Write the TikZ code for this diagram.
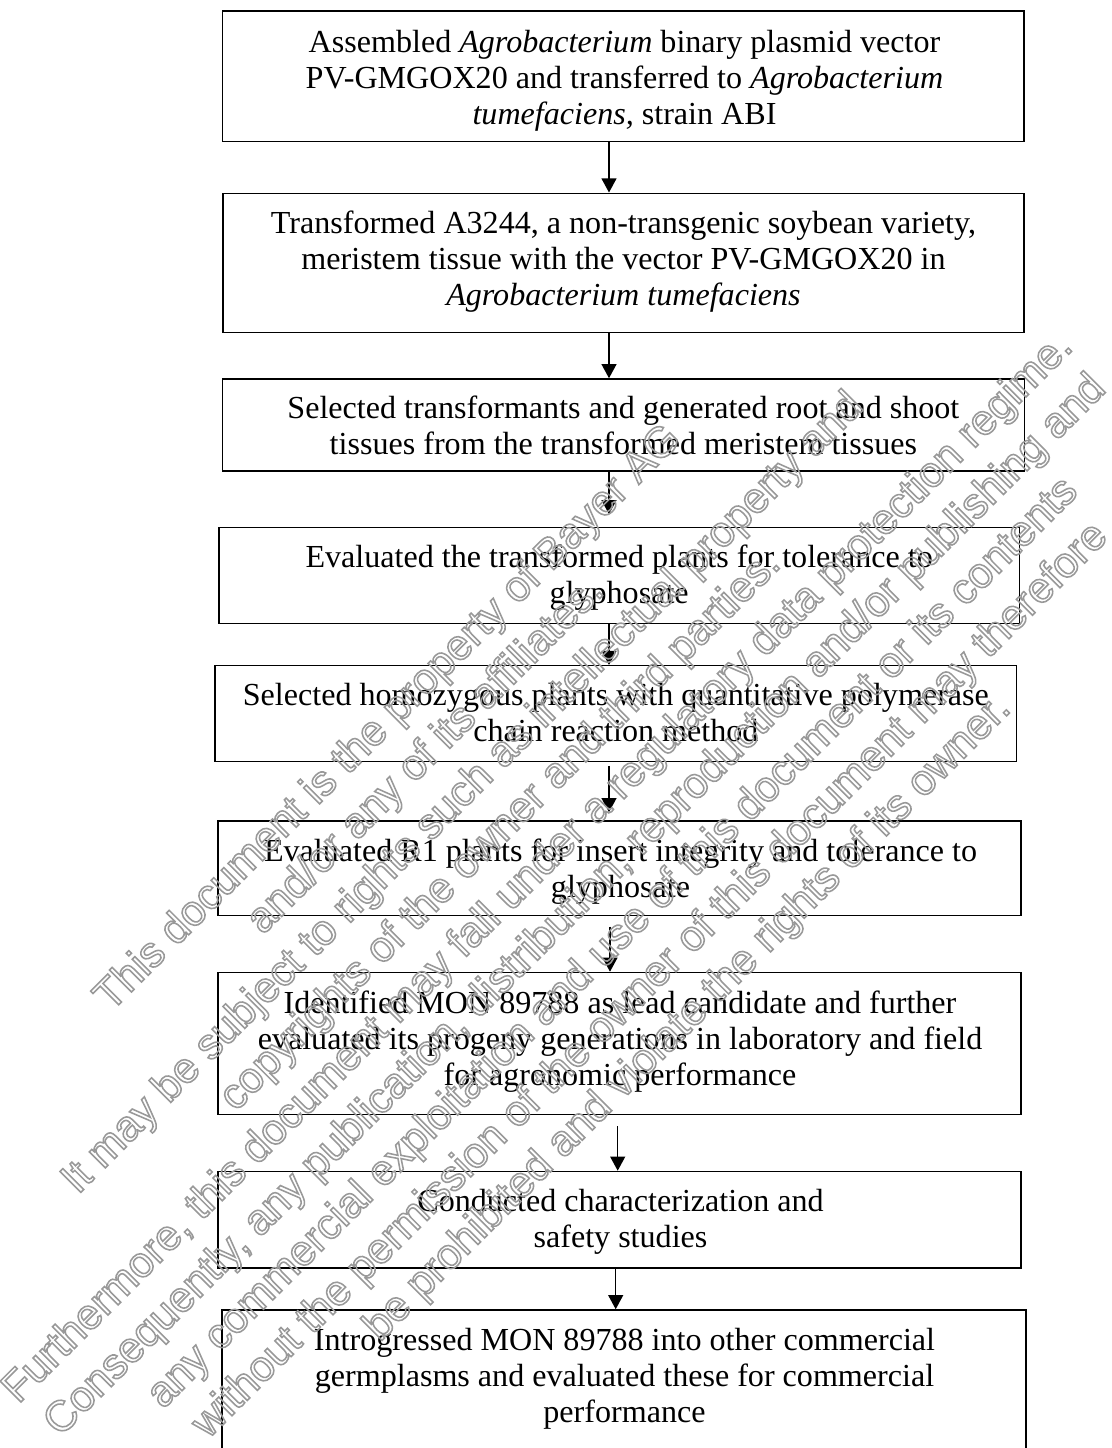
\documentclass[tikz,border=0pt]{standalone}
\usepackage{fontspec}
\setmainfont{Liberation Serif}
\newfontfamily\wmfont{Liberation Sans}
\usetikzlibrary{arrows.meta,calc}
\newdimen\pu \pu=0.3833pt
\newcommand\hollowon{\special{pdf:literal direct 1 Tr 0.6 w}}
\newcommand\hollowoff{\special{pdf:literal direct 0 Tr}}
\begin{document}
\begin{tikzpicture}[x=0.3833pt,y=-0.3833pt,
  box/.style={draw, line width=0.6pt, inner sep=0pt},
  txt/.style={align=center, inner sep=0pt, font=\fontsize{12.3}{13.8}\selectfont},
  arr/.style={-{Triangle[length=5.4pt,width=5.7pt]}, line width=0.55pt},
  wm/.style={align=center, inner sep=0pt, text=black!40, font=\wmfont\fontsize{16.4}{20.3}\selectfont}]
\useasboundingbox (0,0) rectangle (1111,1448);
\clip (0,0) rectangle (1111,1448);

% boxes
\node[box, minimum width=801.7\pu, minimum height=130.7\pu] (b1) at (623.15,76.35) {};
\node[box, minimum width=801\pu,   minimum height=139.4\pu] (b2) at (623.5,263) {};
\node[box, minimum width=801.8\pu, minimum height=92\pu]    (b3) at (623.4,425) {};
\node[box, minimum width=800.3\pu, minimum height=95.6\pu]  (b4) at (619.15,575.5) {};
\node[box, minimum width=801.7\pu, minimum height=95.8\pu]  (b5) at (615.85,713.6) {};
\node[box, minimum width=803\pu,   minimum height=94.5\pu]  (b6) at (619.5,868.25) {};
\node[box, minimum width=803\pu,   minimum height=142.2\pu] (b7) at (619.5,1043.6) {};
\node[box, minimum width=803\pu,   minimum height=96.5\pu]  (b8) at (619.5,1219.75) {};
\node[box, minimum width=804\pu,   minimum height=150\pu]   (b9) at (624,1385) {};

% texts
\node[txt] (t1) at (624.5,81) {\strut Assembled \textit{Agrobacterium} binary plasmid vector\\
  \strut PV-GMGOX20 and transferred to \textit{Agrobacterium}\\
  \strut\textit{tumefaciens,} strain ABI};
\node[txt] (t2) at (623.5,262.3) {\strut Transformed A3244, a non-transgenic soybean variety,\\
  \strut meristem tissue with the vector PV-GMGOX20 in\\
  \strut\textit{Agrobacterium tumefaciens}};
\node[txt] (t3) at (623.4,429.6) {\strut Selected transformants and generated root and shoot\\
  \strut tissues from the transformed meristem tissues};
\node[txt] (t4) at (619.15,578) {\strut Evaluated the transformed plants for tolerance to\\
  \strut glyphosate};
\node[txt] (t5) at (615.85,716.3) {\strut Selected homozygous plants with quantitative polymerase\\
  \strut chain reaction method};
\node[txt] (t6) at (620.5,872) {\strut Evaluated R1 plants for insert integrity and tolerance to\\
  \strut glyphosate};
\node[txt] (t7) at (620,1041.8) {\strut Identified MON 89788 as lead candidate and further\\
  \strut evaluated its progeny generations in laboratory and field\\
  \strut for agronomic performance};
\node[txt] (t8) at (620.5,1222.6) {\strut Conducted characterization and\\
  \strut safety studies};
\node[txt] (t9) at (624.5,1379) {\strut Introgressed MON 89788 into other commercial\\
  \strut germplasms and evaluated these for commercial\\
  \strut performance};

% arrows
\draw[arr] ($(b1.south)+(-14.15,0)$) -- ($(b2.north)+(-14.5,0)$);
\draw[arr] ($(b2.south)+(-14.5,0)$) -- ($(b3.north)+(-14.4,0)$);
\draw[arr, shorten >=4.87pt] ($(b3.south)+(-14.4,0)$) -- ($(b4.north)+(-10.15,0)$);
\draw[arr] ($(b4.south)+(-10.15,0)$) -- ($(b5.north)+(-6.85,0)$);
\draw[arr, shorten <=1.34pt, shorten >=3.07pt] ($(b5.south)+(-6.85,0)$) -- ($(b6.north)+(-10.5,0)$);
\draw[arr, shorten <=4.0pt] ($(b6.south)+(-9.5,0)$) -- ($(b7.north)+(-9.5,0)$);
\draw[arr, shorten <=4.06pt] ($(b7.south)+(-1.8,0)$) -- ($(b8.north)+(-1.8,0)$);
\draw[arr] ($(b8.south)+(-3.8,0)$) -- ($(b9.north)+(-8.3,0)$);

% watermark
\node[wm, rotate=45] (wm) at (539,869) {\hollowon\strut This document is the property of Bayer AG\\
  \strut and/or any of its affiliates.\\
  \strut It may be subject to rights such as intellectual property and\\
  \strut copyrights of the owner and third parties.\\
  \strut Furthermore, this document may fall under a regulatory data protection regime.\\
  \strut Consequently, any publication, distribution, reproduction and/or publishing and\\
  \strut any commercial exploitation and use of this document or its contents\\
  \strut without the permission of the owner of this document may therefore\\
  \strut be prohibited and violate the rights of its owner.\hollowoff};
\end{tikzpicture}
\end{document}
